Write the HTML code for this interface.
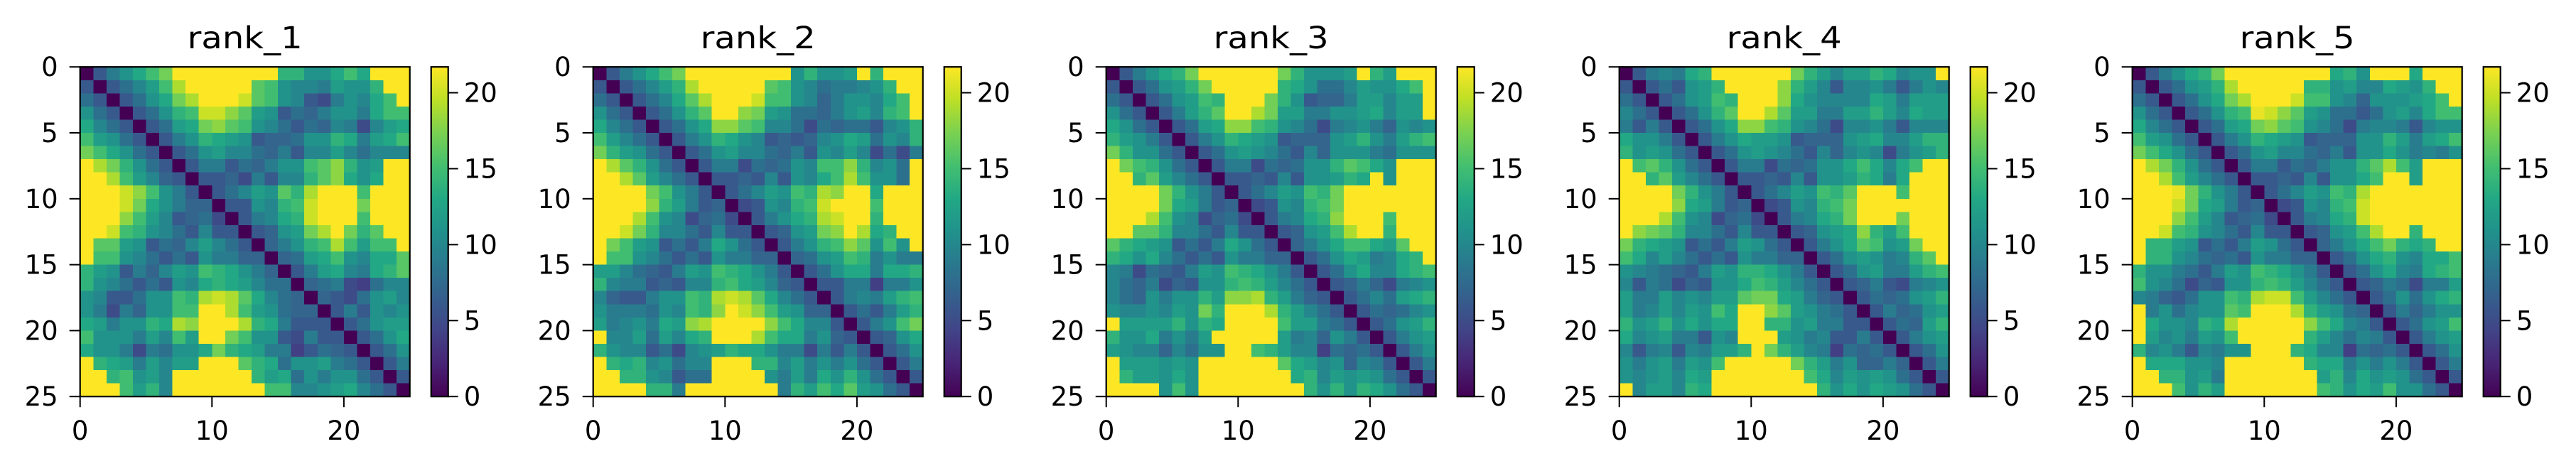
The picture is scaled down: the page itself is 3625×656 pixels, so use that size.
<!DOCTYPE html>
<html><head><meta charset="utf-8"><style>
html,body{margin:0;padding:0;background:#fff;}
svg{display:block;}
text{font-family:"DejaVu Sans","Liberation Sans",sans-serif;fill:#000;}
</style></head><body>
<svg id="fig" width="3625" height="656" viewBox="0 0 3625 656" xmlns="http://www.w3.org/2000/svg">
<defs>
<linearGradient id="vir" x1="0" y1="1" x2="0" y2="0">
<stop offset="0" stop-color="#440154"/><stop offset="0.1" stop-color="#482475"/><stop offset="0.2" stop-color="#414487"/><stop offset="0.3" stop-color="#355f8d"/><stop offset="0.4" stop-color="#2a788e"/><stop offset="0.5" stop-color="#21918c"/><stop offset="0.6" stop-color="#22a884"/><stop offset="0.7" stop-color="#44bf70"/><stop offset="0.8" stop-color="#7ad151"/><stop offset="0.9" stop-color="#bddf26"/><stop offset="1" stop-color="#fde725"/>
</linearGradient>
</defs>
</svg>
<script>
const titles = ["rank_1","rank_2","rank_3","rank_4","rank_5"];
const xTicks = [0,10,20];
const yTicks = [0,5,10,15,20,25];
const cbTicks = [0,5,10,15,20];
const vmin = 0;
const vmax = 21.7;
const rank1 = [
[0,6,9,11,13,15,17,22,22,22,22,22,22,22,22,14,14,11,11,13,15,13,22,22,22],
[6,0,6,8,10,12,15,19,22,22,22,22,22,16,15,11,10,10,9,12,11,11,14,22,22],
[8,6,0,6,8,11,13,17,19,22,22,22,20,16,15,11,10,6,5,9,11,10,13,15,22],
[11,8,6,0,6,8,11,14,15,20,20,18,16,12,11,6,8,7,9,11,11,9,13,15,15],
[13,10,8,6,0,6,8,12,13,17,18,16,15,11,10,8,6,8,7,10,9,5,10,12,13],
[15,12,11,8,6,0,6,9,11,14,13,12,11,6,7,7,8,11,11,14,13,9,12,13,15],
[17,15,13,11,8,6,0,6,8,11,12,10,10,8,7,9,6,10,10,12,10,8,10,10,10],
[22,19,17,14,11,8,6,0,6,9,9,6,8,7,9,11,11,15,16,18,14,11,12,22,22],
[22,22,19,15,12,10,7,6,0,6,6,7,5,9,6,10,10,14,16,18,13,11,13,22,22],
[22,22,22,20,18,15,11,9,6,0,6,8,10,12,11,16,14,19,22,22,22,15,22,22,22],
[22,22,22,20,17,13,11,9,7,7,0,6,6,11,10,14,15,20,22,22,22,17,22,22,22],
[22,22,22,18,15,12,10,6,7,8,5,0,6,9,10,13,14,20,22,22,22,15,22,22,22],
[22,22,20,15,14,11,10,8,6,10,6,6,0,6,7,11,12,17,19,22,17,14,16,22,22],
[22,16,16,12,11,6,8,7,10,12,10,8,6,0,7,9,11,14,15,19,15,12,15,15,22],
[22,15,15,11,10,8,6,8,6,11,9,9,7,7,0,7,8,12,13,15,11,10,13,13,16],
[14,12,11,6,9,7,10,12,11,15,14,13,11,9,7,0,6,9,12,13,10,9,13,14,16],
[14,11,10,8,6,8,6,11,10,13,14,13,12,10,8,8,0,7,8,9,5,4,8,10,10],
[11,10,6,6,8,11,11,15,14,19,20,19,16,13,10,8,7,0,7,6,5,8,11,12,10],
[11,9,5,9,7,11,11,15,15,22,22,19,15,12,11,8,7,7,0,6,9,6,11,10,11],
[13,12,9,11,11,14,13,19,18,22,22,22,19,14,13,9,6,6,6,0,6,8,11,12,12],
[15,11,11,11,9,12,10,15,12,22,22,17,15,11,11,6,5,9,6,6,0,6,8,11,13],
[13,11,11,9,5,9,8,11,11,13,17,14,13,12,9,9,4,6,8,7,6,0,6,8,11],
[22,14,13,12,9,12,10,12,12,22,22,22,16,14,13,8,11,11,12,9,8,6,0,6,9],
[22,22,14,15,11,12,10,22,22,22,22,22,22,14,12,13,8,11,9,11,11,8,6,0,6],
[22,22,22,15,12,14,10,22,22,22,22,22,22,22,15,15,10,10,11,12,13,10,8,6,0]];
const rank2 = [
[0,6,9,11,13,15,17,22,22,22,22,22,22,22,22,11,14,11,11,12,22,14,22,22,22],
[6,0,6,8,10,12,14,19,22,22,22,22,22,16,15,11,10,8,9,9,10,11,14,22,22],
[8,6,0,6,8,10,13,16,19,22,22,22,20,15,15,11,10,7,9,11,11,10,13,15,22],
[11,8,6,0,6,8,11,14,16,22,22,18,17,12,11,8,8,7,9,11,12,10,14,15,22],
[13,10,8,6,0,6,8,11,13,18,18,16,15,10,10,8,5,8,7,8,8,6,10,11,14],
[15,12,10,8,6,0,6,9,11,14,13,11,10,6,7,6,7,10,11,13,12,8,11,10,14],
[17,14,12,11,8,6,0,6,8,11,12,10,10,8,7,9,6,11,10,12,10,5,8,5,9],
[22,19,16,14,11,8,6,0,6,9,9,5,8,7,8,11,10,15,15,18,14,10,11,8,22],
[22,22,19,16,12,10,8,6,0,6,6,7,6,10,6,11,10,13,15,19,15,11,11,8,22],
[22,22,22,22,17,15,11,9,6,0,6,8,10,12,11,15,14,19,18,22,22,13,22,22,22],
[22,22,22,22,18,14,12,9,6,7,0,5,6,11,10,14,15,20,22,22,22,15,22,22,22],
[22,22,22,19,15,11,10,5,7,8,5,0,6,9,11,13,14,19,20,22,22,14,22,22,22],
[22,22,20,17,14,10,10,8,6,10,6,6,0,6,7,11,12,17,18,22,19,13,14,22,22],
[22,17,15,12,11,6,8,6,9,13,11,8,6,0,6,9,11,14,15,18,16,11,15,11,22],
[22,15,15,11,10,8,6,8,6,11,9,9,7,7,0,7,8,11,12,15,14,9,11,9,9],
[12,12,10,8,7,6,9,12,11,15,14,13,11,9,6,0,6,8,11,13,13,9,13,13,14],
[14,10,9,9,6,7,6,10,10,14,15,13,12,10,7,6,0,6,6,9,9,4,9,9,11],
[10,7,6,6,9,11,11,15,14,19,20,19,16,13,10,8,6,0,6,9,10,9,12,14,15],
[11,9,9,9,8,11,10,15,14,18,22,20,18,15,12,11,7,7,0,6,8,6,9,12,14],
[12,9,10,11,9,13,12,18,19,22,22,22,22,18,15,13,10,10,6,0,6,9,11,15,17],
[22,10,10,12,8,12,10,13,14,22,22,22,19,15,13,13,9,11,7,6,0,6,7,11,13],
[14,11,10,10,6,8,5,10,11,12,14,13,13,11,9,9,5,9,6,9,6,0,6,8,11],
[22,14,13,14,10,11,8,10,10,22,22,22,14,14,10,12,9,11,9,11,8,6,0,6,9],
[22,22,14,14,11,10,6,8,8,22,22,22,22,11,9,12,9,13,11,14,11,8,6,0,6],
[22,22,22,22,14,14,9,22,22,22,22,22,22,22,9,14,12,15,13,16,12,11,8,6,0]];
const rank3 = [
[0,6,9,11,13,14,17,22,22,22,22,22,22,17,14,11,11,11,12,22,14,12,22,22,22],
[6,0,6,8,11,12,14,17,22,22,22,22,22,14,13,11,8,8,10,12,11,11,13,15,22],
[8,6,0,6,8,11,12,15,14,22,22,22,17,14,11,6,7,7,9,12,12,10,12,12,22],
[11,8,6,0,6,9,12,14,16,22,22,19,17,12,12,9,9,11,11,12,13,10,12,12,22],
[13,11,8,6,0,6,8,12,13,18,18,15,14,11,10,8,5,9,10,11,9,7,11,10,11],
[14,12,11,9,6,0,6,9,11,14,13,12,11,6,7,7,7,11,12,14,11,9,12,14,15],
[17,14,11,11,8,6,0,6,8,11,12,11,10,8,6,10,7,11,11,11,9,8,11,11,11],
[22,17,15,14,11,8,6,0,6,9,9,5,8,7,8,11,11,14,16,15,13,11,22,22,22],
[22,22,14,16,12,10,8,6,0,6,6,7,6,10,6,11,11,12,14,13,22,11,22,22,22],
[22,22,22,22,17,14,11,9,6,0,6,8,10,12,11,15,14,17,22,22,22,22,22,22,22],
[22,22,22,22,17,13,12,9,6,7,0,5,6,11,10,14,15,17,22,22,22,22,22,22,22],
[22,22,22,19,15,11,10,5,7,8,5,0,6,9,10,13,14,18,22,22,22,15,22,22,22],
[22,22,16,16,14,10,10,8,6,10,6,6,0,6,7,11,12,15,19,22,22,14,22,22,22],
[16,14,13,12,11,6,8,6,9,13,11,8,6,0,7,9,11,13,15,15,13,12,16,22,22],
[14,13,11,13,10,8,6,8,6,11,9,9,7,7,0,6,8,11,13,12,9,10,13,14,22],
[10,9,5,8,7,6,9,12,11,15,14,13,11,9,6,0,6,8,11,13,10,10,13,14,15],
[10,8,7,9,5,7,6,11,11,14,15,14,12,10,8,6,0,6,7,9,7,5,9,10,11],
[10,8,7,11,9,11,11,14,12,18,18,19,14,12,9,7,6,0,6,8,10,8,12,13,14],
[11,10,10,11,10,12,11,17,14,22,22,22,19,14,12,10,8,6,0,6,8,7,8,10,11],
[22,12,12,12,12,14,11,14,13,22,22,22,22,15,12,12,9,8,6,0,6,8,11,12,14],
[14,11,11,13,9,11,9,12,22,22,22,22,22,12,9,10,7,11,9,6,0,6,9,11,12],
[12,11,10,10,7,10,8,11,11,22,22,15,14,12,10,10,4,8,7,8,6,0,6,9,11],
[22,12,12,12,11,12,11,22,22,22,22,22,22,16,13,12,10,11,7,10,9,6,0,6,9],
[22,14,12,12,11,13,11,22,22,22,22,22,22,22,13,14,10,12,11,12,11,8,6,0,6],
[22,22,22,22,11,15,11,22,22,22,22,22,22,22,22,14,11,14,11,14,13,11,8,6,0]];
const rank4 = [
[0,6,9,10,9,13,14,22,22,22,22,22,22,17,14,12,10,12,12,14,13,10,11,11,22],
[6,0,6,8,6,11,12,14,22,22,22,22,18,14,12,10,6,10,10,11,9,6,9,11,10],
[8,6,0,6,8,11,12,15,14,22,22,22,18,13,11,10,10,10,10,13,12,9,12,12,12],
[10,8,6,0,6,8,11,14,16,22,22,19,16,12,12,9,9,12,12,14,12,10,13,12,12],
[9,6,9,6,0,6,8,11,13,18,18,15,14,11,10,8,5,10,10,11,9,6,10,10,10],
[13,11,11,9,6,0,6,9,11,13,12,12,11,6,7,7,7,11,12,13,10,10,12,14,14],
[14,11,12,11,8,6,0,6,8,11,12,11,10,8,6,10,7,10,11,10,5,9,11,12,14],
[22,15,16,14,11,8,6,0,6,9,9,5,8,7,8,11,11,13,15,13,10,13,15,22,22],
[22,22,14,16,12,10,8,6,0,6,6,7,6,10,6,11,11,12,14,13,9,13,22,22,22],
[22,22,22,22,17,14,11,9,6,0,6,8,10,12,11,15,14,16,22,22,22,15,22,22,22],
[22,22,22,22,18,13,12,9,6,7,0,5,6,11,10,14,15,17,22,22,22,22,22,22,22],
[22,22,22,19,15,11,10,5,7,8,5,0,6,9,10,13,14,17,22,22,22,17,22,22,22],
[22,18,17,16,14,10,10,8,6,10,6,6,0,6,7,11,12,13,18,14,12,15,22,22,22],
[17,14,13,12,11,6,8,6,9,12,11,8,6,0,6,9,11,13,16,15,11,12,17,22,22],
[15,13,10,12,10,8,6,8,6,11,9,9,7,7,0,6,8,11,12,11,9,10,14,16,22],
[11,10,9,8,7,6,9,12,11,14,14,13,11,9,6,0,6,8,11,12,9,9,12,14,15],
[10,6,9,8,5,7,6,11,11,13,15,14,12,10,8,6,0,6,7,9,6,5,9,10,11],
[12,9,9,12,10,11,10,12,12,16,17,17,13,12,9,7,6,0,6,8,7,8,11,12,14],
[12,9,10,12,10,12,11,15,13,22,22,18,16,12,11,9,8,6,0,6,9,7,8,11,12],
[14,11,12,14,11,13,11,13,13,22,22,14,14,11,12,9,9,6,6,0,6,8,7,12,14],
[13,10,11,12,9,9,6,11,10,22,22,22,12,11,9,10,6,6,9,6,0,6,9,11,12],
[10,6,9,10,6,10,9,12,12,14,22,17,14,12,10,9,4,8,7,8,6,0,6,8,11],
[11,9,11,12,9,12,11,15,22,22,22,22,22,17,14,12,9,11,7,7,9,7,0,6,9],
[11,10,11,12,10,13,12,22,22,22,22,22,22,22,15,13,10,12,11,12,11,8,6,0,6],
[22,10,12,12,10,14,13,22,22,22,22,22,22,22,22,14,11,13,11,13,12,11,8,6,0]];
const rank5 = [
[0,6,9,11,13,14,17,22,22,22,22,22,22,22,22,13,14,11,22,22,22,13,22,22,22],
[6,0,6,8,11,12,14,19,22,22,22,22,22,14,14,11,12,10,10,13,12,11,14,22,22],
[8,6,0,6,8,11,13,17,19,22,22,22,20,15,15,11,10,7,11,11,11,12,13,15,22],
[11,8,6,0,6,8,11,14,15,21,20,18,16,12,11,8,8,6,8,11,12,10,13,15,15],
[13,10,8,6,0,6,8,12,13,17,18,16,15,11,10,8,5,9,10,10,9,6,10,11,11],
[15,12,11,8,6,0,6,9,11,14,13,12,11,6,7,7,7,11,11,14,12,9,12,13,15],
[17,15,13,11,8,6,0,6,8,11,12,10,10,8,7,9,6,11,11,13,11,9,10,9,11],
[22,19,17,14,11,8,6,0,6,9,9,6,8,7,9,11,11,14,16,19,15,12,22,22,22],
[22,22,19,15,12,10,8,6,0,6,6,7,6,10,6,11,11,13,15,22,22,12,22,22,22],
[22,22,22,21,17,14,11,9,6,0,6,8,10,12,11,15,14,19,22,22,22,22,22,22,22],
[22,22,22,20,17,13,12,9,6,7,0,5,6,11,10,14,15,20,22,22,22,22,22,22,22],
[22,22,22,18,15,12,10,6,7,8,5,0,6,9,10,13,14,20,22,22,22,22,22,22,22],
[22,22,20,15,14,11,10,8,6,10,6,6,0,6,7,11,12,15,19,22,22,14,22,22,22],
[22,14,14,12,11,6,8,6,9,12,11,8,6,0,7,9,11,13,15,17,14,13,14,22,22],
[22,14,14,11,10,8,7,8,6,11,9,9,7,7,0,6,8,11,13,14,11,10,13,13,15],
[14,11,11,9,8,6,9,12,11,15,14,13,11,9,6,0,6,8,11,13,10,9,13,14,15],
[15,11,10,8,5,7,6,11,11,14,15,14,12,10,8,6,0,6,7,9,8,5,9,9,12],
[10,9,7,6,8,11,11,15,14,19,20,20,15,12,10,8,6,0,6,8,11,8,11,13,14],
[22,9,11,8,10,11,11,16,15,22,22,22,19,14,12,11,8,7,0,6,9,7,9,11,11],
[22,13,11,11,10,14,13,19,22,22,22,22,22,18,15,13,10,9,6,0,6,8,11,12,15],
[22,12,10,11,9,12,11,15,22,22,22,22,22,14,12,10,8,10,9,6,0,6,9,11,12],
[14,10,11,9,6,10,9,11,11,22,22,22,14,13,10,10,4,8,7,8,6,0,6,8,11],
[22,13,13,13,11,11,10,22,22,22,22,22,22,14,13,13,9,11,9,11,9,6,0,6,9],
[22,22,14,14,11,12,9,22,22,22,22,22,22,22,12,14,10,13,11,12,11,8,6,0,6],
[22,22,22,15,11,14,12,22,22,22,22,22,22,22,15,14,11,13,12,15,11,11,8,6,0]];
const matrices = [rank1, rank2, rank3, rank4, rank5];

const VIR = ["#440154","#482475","#414487","#355f8d","#2a788e","#21918c","#22a884","#44bf70","#7ad151","#bddf26","#fde725"];
function hex2rgb(h){return [parseInt(h.slice(1,3),16),parseInt(h.slice(3,5),16),parseInt(h.slice(5,7),16)];}
function viridis(v){
  let t=(v-vmin)/(vmax-vmin); t=Math.max(0,Math.min(1,t));
  const p=t*10, i=Math.min(9,Math.floor(p)), f=p-i;
  const a=hex2rgb(VIR[i]), b=hex2rgb(VIR[i+1]);
  return "rgb("+a.map((x,k)=>Math.round(x+(b[k]-x)*f)).join(",")+")";
}
const NS="http://www.w3.org/2000/svg";
const svg=document.getElementById("fig");
function mk(tag,attrs,parent){const e=document.createElementNS(NS,tag);for(const k in attrs)e.setAttribute(k,attrs[k]);(parent||svg).appendChild(e);return e;}

const AX0=112.7, STEP=722, AXTOP=94.2, AXSIZE=464, CBOFF=494, CBW=24;
const N=25;
titles.forEach((title,p)=>{
  const left=AX0+STEP*p;
  const g=mk("g",{});
  
  
  const xs=v=>left+v/N*AXSIZE;
  const ys=v=>AXTOP+v/N*AXSIZE;
  const hm=mk("g",{"shape-rendering":"crispEdges"},g);
  
  
  const M=matrices[p];
  M.forEach((row,r)=>row.forEach((val,c)=>{
    const rc=mk("rect",{x:xs(c).toFixed(2),y:ys(r).toFixed(2),width:(AXSIZE/N+0.6).toFixed(2),height:(AXSIZE/N+0.6).toFixed(2),fill:viridis(val)},hm);
    
    
  }));
  const fr=mk("rect",{x:left,y:AXTOP,width:AXSIZE,height:AXSIZE,fill:"none",stroke:"#000","stroke-width":2.2},g);
  
  
  const t=mk("text",{x:left+AXSIZE/2,y:68,"text-anchor":"middle","font-size":43,textLength:162,lengthAdjust:"spacingAndGlyphs"},g);
  t.textContent=title;
  
  
  yTicks.forEach(v=>{
    const y=ys(v);
    const tk=mk("line",{x1:left-15,x2:left,y1:y,y2:y,stroke:"#000","stroke-width":2},g);
    
    
    const lb=mk("text",{x:left-31,y:y+13,"text-anchor":"end","font-size":37},g);
    lb.textContent=String(v);
    
    
  });
  xTicks.forEach(v=>{
    const x=xs(v);
    const tk=mk("line",{x1:x,x2:x,y1:AXTOP+AXSIZE,y2:AXTOP+AXSIZE+15,stroke:"#000","stroke-width":2},g);
    
    
    const lb=mk("text",{x:x,y:619,"text-anchor":"middle","font-size":37},g);
    lb.textContent=String(v);
    
    
  });
  const cbx=left+CBOFF;
  const cb=mk("rect",{x:cbx,y:AXTOP,width:CBW,height:AXSIZE,fill:"url(#vir)",stroke:"#000","stroke-width":2.2},g);
  
  
  const cy=v=>AXTOP+AXSIZE-(v-vmin)/(vmax-vmin)*AXSIZE;
  cbTicks.forEach(v=>{
    const y=cy(v);
    const tk=mk("line",{x1:cbx+CBW,x2:cbx+CBW+14,y1:y,y2:y,stroke:"#000","stroke-width":2},g);
    
    
    const lb=mk("text",{x:cbx+CBW+22,y:y+13,"text-anchor":"start","font-size":37},g);
    lb.textContent=String(v);
    
    
  });
});
</script>
</body></html>
